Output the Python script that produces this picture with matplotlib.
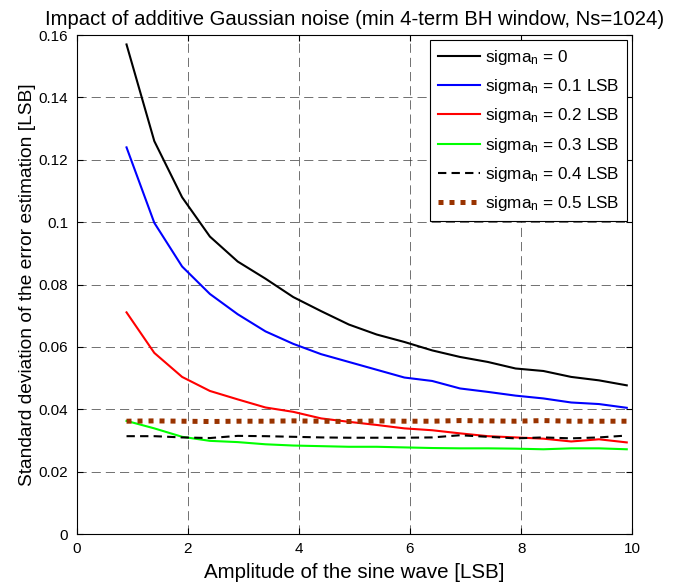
import numpy as np
import matplotlib
matplotlib.use('Agg')
import matplotlib.pyplot as plt

plt.rcParams['font.family'] = ['Liberation Sans', 'DejaVu Sans']
plt.rcParams['mathtext.fontset'] = 'custom'
plt.rcParams['mathtext.rm'] = 'Liberation Sans'
plt.rcParams['mathtext.it'] = 'Liberation Sans'

# amplitude of the sine wave [LSB]
amp = [0.9, 1.4, 1.9, 2.4, 2.9, 3.4, 3.9, 4.4, 4.9, 5.4,
       5.9, 6.4, 6.9, 7.4, 7.9, 8.4, 8.9, 9.4, 9.9]

# std of the error estimation for each noise level
s0 = [0.157, 0.126, 0.108, 0.0954, 0.0874, 0.0819, 0.0760, 0.0715, 0.0672, 0.0640,
      0.0616, 0.0589, 0.0568, 0.0552, 0.0531, 0.0523, 0.0504, 0.0493, 0.0477]
s1 = [0.124, 0.0998, 0.0858, 0.0770, 0.0705, 0.0650, 0.0610, 0.0577, 0.0552, 0.0527,
      0.0502, 0.0491, 0.0467, 0.0456, 0.0444, 0.0435, 0.0422, 0.0417, 0.0405]
s2 = [0.0711, 0.0581, 0.0504, 0.0459, 0.0432, 0.0406, 0.0392, 0.0371, 0.0360, 0.0350,
      0.0339, 0.0333, 0.0323, 0.0314, 0.0310, 0.0306, 0.0297, 0.0304, 0.0294]
s3 = [0.0363, 0.0339, 0.0312, 0.0299, 0.0295, 0.0288, 0.0284, 0.0282, 0.0280, 0.0280,
      0.0278, 0.0276, 0.0275, 0.0275, 0.0274, 0.0272, 0.0275, 0.0275, 0.0272]
s4 = [0.0314, 0.0314, 0.0310, 0.0308, 0.0315, 0.0314, 0.0312, 0.0310, 0.0309, 0.0309,
      0.0309, 0.0310, 0.0317, 0.0312, 0.0307, 0.0310, 0.0307, 0.0310, 0.0316]
s5 = [0.0362, 0.0363, 0.0362, 0.0361, 0.0362, 0.0362, 0.0363, 0.0362, 0.0361, 0.0363,
      0.0362, 0.0362, 0.0364, 0.0363, 0.0362, 0.0364, 0.0362, 0.0362, 0.0362]

labels = ['sigma$_n$ = 0', 'sigma$_n$ = 0.1 LSB', 'sigma$_n$ = 0.2 LSB',
          'sigma$_n$ = 0.3 LSB', 'sigma$_n$ = 0.4 LSB', 'sigma$_n$ = 0.5 LSB']

fig = plt.figure(figsize=(6.77, 5.85), dpi=100)
ax = fig.add_axes([0.113, 0.087, 0.821, 0.853])

ax.plot(amp, s0, color='black', lw=1.5, label=labels[0])
ax.plot(amp, s1, color='blue', lw=1.5, label=labels[1])
ax.plot(amp, s2, color='red', lw=1.5, label=labels[2])
ax.plot(amp, s3, color='#00ff00', lw=1.5, label=labels[3])
ax.plot(amp, s4, color='black', lw=1.5, ls=(0, (4, 2.5)), label=labels[4])
ax.plot(amp, s5, color='#993300', lw=3.6, ls=(0, (1, 1.2)), label=labels[5])

ax.set_xlim(0, 10)
ax.set_ylim(0, 0.16)
ax.set_xticks(np.arange(0, 11, 2))
ax.set_yticks(np.arange(0, 0.161, 0.02))
ax.set_yticklabels(['0', '0.02', '0.04', '0.06', '0.08', '0.1', '0.12', '0.14', '0.16'])
ax.tick_params(direction='in', top=True, right=True, labelsize=11, length=4, pad=6)
ax.grid(True, color='#303030', ls=(0, (11, 6)), lw=0.6, alpha=0.8)

ax.set_xlabel('Amplitude of the sine wave [LSB]', fontsize=14.8, labelpad=5)
ax.set_ylabel('Standard deviation of the error estimation [LSB]', fontsize=13.8, labelpad=2)
ax.set_title('Impact of additive Gaussian noise (min 4-term BH window, Ns=1024)',
             fontsize=14.6, pad=7)

leg = ax.legend(loc='upper right', fontsize=12.3, fancybox=False, framealpha=1,
                edgecolor='black', handlelength=2.45, handletextpad=0.3,
                borderaxespad=0.3, labelspacing=0.6, borderpad=0.45)
leg.get_frame().set_linewidth(0.8)

fig.savefig('out.png', dpi=100)
